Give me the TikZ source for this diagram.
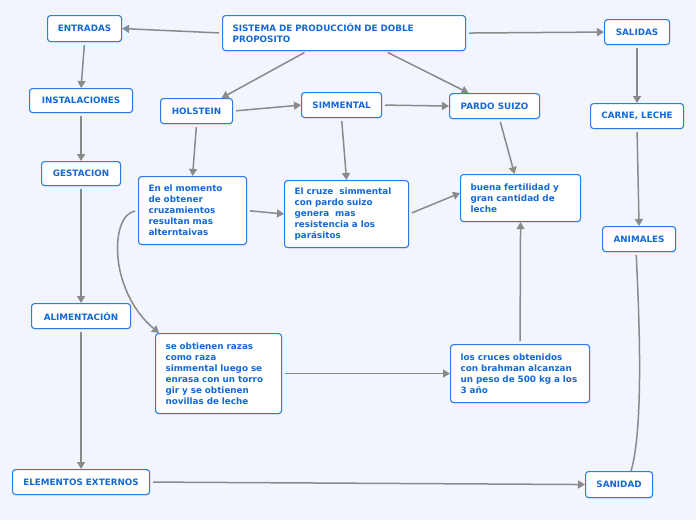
\documentclass[tikz,border=0pt]{standalone}
\usepackage{fontspec}
\setmainfont{DejaVu Sans}
\usepackage{tikz}
\usetikzlibrary{positioning,arrows.meta,shadows}

\definecolor{bgcol}{HTML}{F2F5FD}
\definecolor{boxline}{HTML}{2A7DE1}
\definecolor{boxtext}{HTML}{1569D6}
\definecolor{linkcol}{HTML}{8A8A8A}

\tikzset{
  topic/.style={draw=boxline, fill=white, line width=1.1pt, rounded corners=3pt,
    text=boxtext, font=\fontsize{8.8}{11}\selectfont\bfseries, anchor=north west,
    inner xsep=0pt, inner ysep=0pt,
    drop shadow={opacity=0.15, shadow xshift=0.6pt, shadow yshift=-1pt}},
  note/.style={topic, align=left, inner xsep=10pt},
  link/.style={draw=linkcol, line width=1.5pt, shorten <=3pt,
    -{Triangle[length=7pt,width=8pt]}},
}

\begin{document}
\begin{tikzpicture}[x=1pt, y=-1pt]
        \fill[bgcol] (0,0) rectangle (696,520);
        \useasboundingbox (0,0) rectangle (696,520);

        % main topic
        \node[note, text width=223pt, minimum height=35pt] (sistema) at (222,15)
            {SISTEMA DE PRODUCCIÓN DE DOBLE\\PROPOSITO};

        % left column
        \node[topic, minimum width=74pt, minimum height=26pt] (entradas) at (47,15) {ENTRADAS};
        \node[topic, minimum width=103pt, minimum height=24pt] (instalaciones) at (29,88) {INSTALACIONES};
        \node[topic, minimum width=79pt, minimum height=24pt] (gestacion) at (41,161) {GESTACION};
        \node[topic, minimum width=99pt, minimum height=25pt] (alimentacion) at (31,303) {ALIMENTACIÓN};
        \node[topic, minimum width=137pt, minimum height=25pt] (externos) at (12,469) {ELEMENTOS EXTERNOS};

        % breeds
        \node[topic, minimum width=72pt, minimum height=25pt] (holstein) at (160,98) {HOLSTEIN};
        \node[topic, minimum width=80pt, minimum height=25pt] (simmental) at (301,92) {SIMMENTAL};
        \node[topic, minimum width=90pt, minimum height=25pt] (pardo) at (449,93) {PARDO SUIZO};

        % notes
        \node[note, text width=88pt, minimum height=68pt] (momento) at (138,176)
            {En el momento\\de obtener\\cruzamientos\\resultan mas\\alterntaivas};
        \node[note, text width=104pt, minimum height=67pt] (cruze) at (284,180)
            {El cruze\ \ simmental\\con pardo suizo\\genera\ \ mas\\resistencia a los\\parásitos};
        \node[note, text width=100pt, minimum height=47pt] (fertilidad) at (460,174)
            {buena fertilidad y\\gran cantidad de\\leche};
        \node[note, text width=106pt, minimum height=80pt] (razas) at (155,333)
            {se obtienen razas\\como raza\\simmental luego se\\enrasa con un torro\\gir y se obtienen\\novillas de leche};
        \node[note, text width=119pt, minimum height=58pt] (cruces) at (450,344)
            {los cruces obtenidos\\con brahman alcanzan\\un peso de 500 kg a los\\3 año};

        % right column
        \node[topic, minimum width=65pt, minimum height=25pt] (salidas) at (604,19) {SALIDAS};
        \node[topic, minimum width=93pt, minimum height=25pt] (carne) at (590,103) {CARNE, LECHE};
        \node[topic, minimum width=73pt, minimum height=25pt] (animales) at (602,226) {ANIMALES};
        \node[topic, minimum width=67pt, minimum height=26pt] (sanidad) at (585,471) {SANIDAD};

        % links
        \draw[link] (sistema.west) -- (entradas.east);
        \draw[link] ([xshift=-37pt]sistema.south) -- ([xshift=25pt]holstein.north);
        \draw[link] ([xshift=41pt]sistema.south) -- ([xshift=-26pt]pardo.north);
        \draw[link] (sistema.east) -- (salidas.west);
        \draw[link] (entradas.south) -- (instalaciones.north);
        \draw[link] (instalaciones.south) -- (gestacion.north);
        \draw[link] (gestacion.south) -- (alimentacion.north);
        \draw[link] (alimentacion.south) -- (externos.north);
        \draw[link] (externos.east) -- (sanidad.west);
        \draw[link] (holstein.east) -- (simmental.west);
        \draw[link] (simmental.east) -- (pardo.west);
        \draw[link] (holstein.south) -- (momento.north);
        \draw[link] (simmental.south) -- (cruze.north);
        \draw[link] ([xshift=5pt]pardo.south) -- ([xshift=-6pt]fertilidad.north);
        \draw[link] (momento.east) -- (cruze.west);
        \draw[link] (cruze.east) -- ([yshift=5pt]fertilidad.west);
        \draw[link] (momento.west) .. controls (110,215) and (108,290) .. ([xshift=4pt]razas.north west);
        \draw[link] (razas.east) -- (cruces.west);
        \draw[link] (cruces.north) -- (fertilidad.south);
        \draw[link] (salidas.south) -- (carne.north);
        \draw[link] (carne.south) -- (animales.north);
        \draw[link, -] ([xshift=-3pt]animales.south) .. controls (640,330) and (643,430) .. ([xshift=12pt]sanidad.north);
\end{tikzpicture}
\end{document}
